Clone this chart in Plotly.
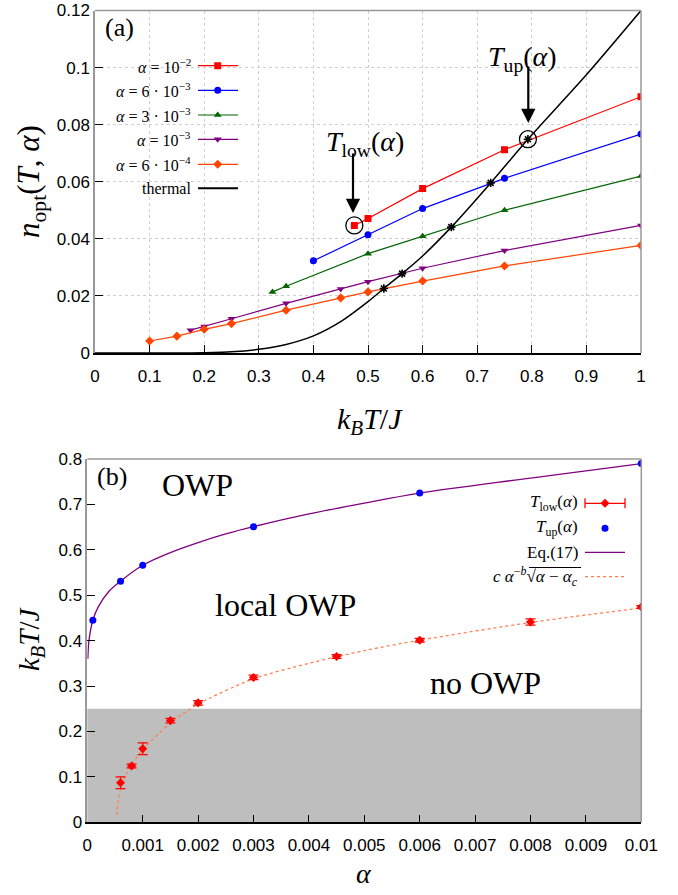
import plotly.graph_objects as go

W, H = 678, 895

# ---------------- panel (a): optimal occupation vs temperature ----------------
T_red = [0.475, 0.5, 0.6, 0.75, 1.0]
n_red = [0.0447, 0.0471, 0.0576, 0.0712, 0.0898]
T_blue = [0.4, 0.5, 0.6, 0.75, 1.0]
n_blue = [0.0323, 0.0414, 0.0506, 0.0612, 0.0767]
T_green = [0.325, 0.35, 0.5, 0.6, 0.75, 1.0]
n_green = [0.0214, 0.0234, 0.0348, 0.0409, 0.0500, 0.0620]
T_purple = [0.175, 0.2, 0.25, 0.35, 0.45, 0.5, 0.6, 0.75, 1.0]
n_purple = [0.0080, 0.0093, 0.0120, 0.0174, 0.0224, 0.0250, 0.0297, 0.0359, 0.0447]
T_orange = [0.1, 0.15, 0.2, 0.25, 0.35, 0.45, 0.5, 0.6, 0.75, 1.0]
n_orange = [0.0042, 0.0059, 0.0083, 0.0103, 0.0150, 0.0193, 0.0214, 0.0252, 0.0305, 0.0377]

# thermal occupation curve
T_thermal = [0.0, 0.1, 0.15, 0.2, 0.25, 0.3, 0.35, 0.4, 0.45, 0.5, 0.529, 0.5625,
             0.6, 0.6525, 0.7247, 0.7929, 0.9, 1.0]
n_thermal = [0.0, 0.0, 0.0, 0.0001, 0.0004, 0.0013, 0.0030, 0.0060, 0.0110, 0.0180,
             0.0226, 0.0278, 0.0340, 0.0441, 0.0596, 0.0749, 0.0975, 0.1200]

# crossings of the thermal curve with each alpha series
T_cross = [0.529, 0.5625, 0.6525, 0.7247, 0.7929]
n_cross = [0.0226, 0.0278, 0.0441, 0.0596, 0.0749]

# highlighted points for alpha = 1e-2
T_low_pt, n_low_pt = 0.475, 0.0447
T_up_pt, n_up_pt = 0.7929, 0.0749

legend_a = ["<i>α</i> = 10<sup>−2</sup>", "<i>α</i> = 6 · 10<sup>−3</sup>",
            "<i>α</i> = 3 · 10<sup>−3</sup>", "<i>α</i> = 10<sup>−3</sup>",
            "<i>α</i> = 6 · 10<sup>−4</sup>", "thermal"]

xa_ticks = [0, 0.1, 0.2, 0.3, 0.4, 0.5, 0.6, 0.7, 0.8, 0.9, 1]
xa_text = ["0", "0.1", "0.2", "0.3", "0.4", "0.5", "0.6", "0.7", "0.8", "0.9", "1"]
ya_ticks = [0, 0.02, 0.04, 0.06, 0.08, 0.1, 0.12]
ya_text = ["0", "0.02", "0.04", "0.06", "0.08", "0.1", "0.12"]

# ---------------- panel (b): phase diagram ----------------
alpha_up = [0.0001, 0.0006, 0.001, 0.003, 0.006, 0.01]
T_up = [0.445, 0.531, 0.566, 0.651, 0.725, 0.790]

alpha_low = [0.0006, 0.0008, 0.001, 0.0015, 0.002, 0.003, 0.0045, 0.006, 0.008, 0.01]
T_low = [0.087, 0.124, 0.162, 0.224, 0.263, 0.319, 0.365, 0.401, 0.441, 0.474]
T_low_err = [0.013, 0.004, 0.013, 0.005, 0.005, 0.005, 0.004, 0.004, 0.007, 0.003]

alpha_eq17 = [0.00001, 0.00003, 0.0001, 0.0002, 0.0004, 0.0006, 0.001, 0.0015,
              0.002, 0.0025, 0.003, 0.004, 0.005, 0.006, 0.008, 0.01]
T_eq17 = [0.360, 0.400, 0.445, 0.475, 0.510, 0.531, 0.566, 0.594, 0.616, 0.635,
          0.651, 0.679, 0.703, 0.725, 0.758, 0.790]

alpha_fit = [0.000535, 0.00055, 0.0006, 0.0007, 0.0008, 0.001, 0.0015, 0.002,
             0.003, 0.004, 0.005, 0.006, 0.008, 0.01]
T_fit = [0.016, 0.038, 0.072, 0.105, 0.127, 0.160, 0.218, 0.260, 0.316, 0.350,
         0.378, 0.401, 0.440, 0.472]

NO_OWP_LIMIT = 0.25

legend_b = ["<i>T</i><sub>low</sub>(<i>α</i>)", "<i>T</i><sub>up</sub>(<i>α</i>)",
            "Eq.(17)", "<i>c α</i><sup>−<i>b</i></sup>√<i>α</i> − <i>α</i><sub><i>c</i></sub>"]

xb_ticks = [0, 0.001, 0.002, 0.003, 0.004, 0.005, 0.006, 0.007, 0.008, 0.009, 0.01]
xb_text = ["0", "0.001", "0.002", "0.003", "0.004", "0.005", "0.006", "0.007", "0.008", "0.009", "0.01"]
yb_ticks = [0, 0.1, 0.2, 0.3, 0.4, 0.5, 0.6, 0.7, 0.8]
yb_text = ["0", "0.1", "0.2", "0.3", "0.4", "0.5", "0.6", "0.7", "0.8"]

# ---------------- layout geometry (pixels) ----------------
A_L, A_R, A_T, A_B = 95, 641, 10.5, 353
B_L, B_R, B_T, B_B = 87.3, 641.3, 459, 822.3
XA_RANGE, YA_RANGE = [0, 1], [0, 0.12]
XB_RANGE, YB_RANGE = [0, 0.01], [0, 0.8]


def px(x):
    return x / W


def py(y):
    return 1 - y / H


def a_data(x, y):
    return (XA_RANGE[0] + (x - A_L) / (A_R - A_L) * (XA_RANGE[1] - XA_RANGE[0]),
            YA_RANGE[0] + (A_B - y) / (A_B - A_T) * (YA_RANGE[1] - YA_RANGE[0]))


def b_data(x, y):
    return (XB_RANGE[0] + (x - B_L) / (B_R - B_L) * (XB_RANGE[1] - XB_RANGE[0]),
            YB_RANGE[0] + (B_B - y) / (B_B - B_T) * (YB_RANGE[1] - YB_RANGE[0]))


SERIF = "Liberation Serif, Times New Roman, serif"
SANS = "Liberation Sans, Arial, sans-serif"

RED, BLUE, GREEN, PURPLE, ORANGE = "#ff0000", "#0000ff", "#006400", "#800080", "#ff4500"
FIT = "#ff7f50"

fig = go.Figure()

series_a = [
    (T_red, n_red, RED, "square", 7),
    (T_blue, n_blue, BLUE, "circle", 7),
    (T_green, n_green, GREEN, "triangle-up", 7),
    (T_purple, n_purple, PURPLE, "triangle-down", 7),
    (T_orange, n_orange, ORANGE, "diamond", 7),
]
for xs, ys, col, sym, sz in series_a:
    fig.add_trace(go.Scatter(x=xs, y=ys, mode="lines+markers", xaxis="x", yaxis="y",
                             line=dict(color=col, width=1.2),
                             marker=dict(symbol=sym, size=sz, color=col),
                             showlegend=False, hoverinfo="skip"))

fig.add_trace(go.Scatter(x=T_thermal, y=n_thermal, mode="lines", xaxis="x", yaxis="y",
                         line=dict(color="black", width=1.5, shape="spline", smoothing=0.8),
                         showlegend=False, hoverinfo="skip"))
fig.add_trace(go.Scatter(x=T_cross, y=n_cross, mode="markers", xaxis="x", yaxis="y",
                         marker=dict(symbol="asterisk-open", size=7, color="black",
                                     line=dict(color="black", width=1.6)),
                         showlegend=False, hoverinfo="skip"))
fig.add_trace(go.Scatter(x=[T_low_pt, T_up_pt], y=[n_low_pt, n_up_pt], mode="markers",
                         xaxis="x", yaxis="y",
                         marker=dict(symbol="circle-open", size=17, color="black",
                                     line=dict(color="black", width=1.3)),
                         showlegend=False, hoverinfo="skip"))

# legend of panel (a): text on the left, sample on the right
leg_a_rows = [65.7, 90.3, 115.0, 139.3, 164.3, 188.3]
leg_a_styles = [(RED, "square"), (BLUE, "circle"), (GREEN, "triangle-up"),
                (PURPLE, "triangle-down"), (ORANGE, "diamond"), ("black", None)]
annotations = []
shapes = []
lx0, lx1, lxm = 198, 238, 217.7
for row, label, (col, sym) in zip(leg_a_rows, legend_a, leg_a_styles):
    x0, yv = a_data(lx0, row)
    x1, _ = a_data(lx1, row)
    shapes.append(dict(type="line", xref="x", yref="y", x0=x0, x1=x1, y0=yv, y1=yv,
                       line=dict(color=col, width=2 if sym is None else 1.2)))
    if sym is not None:
        xm, _ = a_data(lxm, row)
        fig.add_trace(go.Scatter(x=[xm], y=[yv], mode="markers", xaxis="x", yaxis="y",
                                 marker=dict(symbol=sym, size=7, color=col),
                                 showlegend=False, hoverinfo="skip"))
    annotations.append(dict(x=px(193), y=py(row), xref="paper", yref="paper",
                            text=label, showarrow=False, xanchor="right", yanchor="middle",
                            font=dict(family=SERIF, size=16, color="black")))

# ---- panel (b) traces ----
shapes.append(dict(type="rect", xref="x2 domain", yref="y2", x0=0, x1=1, y0=0,
                   y1=NO_OWP_LIMIT, fillcolor="#bebebe", line=dict(width=0), layer="below"))

fig.add_trace(go.Scatter(x=alpha_eq17, y=T_eq17, mode="lines", xaxis="x2", yaxis="y2",
                         line=dict(color=PURPLE, width=1.3, shape="spline", smoothing=1.0),
                         showlegend=False, hoverinfo="skip"))
fig.add_trace(go.Scatter(x=alpha_fit, y=T_fit, mode="lines", xaxis="x2", yaxis="y2",
                         line=dict(color=FIT, width=1.3, dash="dot", shape="spline",
                                   smoothing=0.8),
                         showlegend=False, hoverinfo="skip"))
fig.add_trace(go.Scatter(x=alpha_low, y=T_low, mode="markers", xaxis="x2", yaxis="y2",
                         error_y=dict(type="data", array=T_low_err, color=RED,
                                      thickness=1.3, width=5),
                         marker=dict(symbol="diamond", size=7, color=RED),
                         showlegend=False, hoverinfo="skip"))
fig.add_trace(go.Scatter(x=alpha_up, y=T_up, mode="markers", xaxis="x2", yaxis="y2",
                         marker=dict(symbol="circle", size=7, color=BLUE),
                         showlegend=False, hoverinfo="skip"))

# legend of panel (b)
leg_b_rows = [503.3, 528.3, 552.3, 576.7]
bx0, bx1, bxm = 585, 625, 605
for row, label in zip(leg_b_rows, legend_b):
    annotations.append(dict(x=px(580), y=py(row), xref="paper", yref="paper",
                            text=label, showarrow=False, xanchor="right", yanchor="middle",
                            font=dict(family=SERIF, size=17, color="black")))
r0, r1, r2, r3 = leg_b_rows
# T_low sample: horizontal error bar with marker
shapes.append(dict(type="line", xref="paper", yref="paper", x0=px(bx0), x1=px(bx1),
                   y0=py(r0), y1=py(r0), line=dict(color=RED, width=1.3)))
for cx in (bx0, bx1):
    shapes.append(dict(type="line", xref="paper", yref="paper", x0=px(cx), x1=px(cx),
                       y0=py(r0 - 5), y1=py(r0 + 5), line=dict(color=RED, width=1.3)))
xm, ym = b_data(bxm, r0)
fig.add_trace(go.Scatter(x=[xm], y=[ym], mode="markers", xaxis="x2", yaxis="y2",
                         marker=dict(symbol="diamond", size=7, color=RED),
                         showlegend=False, hoverinfo="skip"))
xm, ym = b_data(bxm, r1)
fig.add_trace(go.Scatter(x=[xm], y=[ym], mode="markers", xaxis="x2", yaxis="y2",
                         marker=dict(symbol="circle", size=7, color=BLUE),
                         showlegend=False, hoverinfo="skip"))
shapes.append(dict(type="line", xref="paper", yref="paper", x0=px(bx0), x1=px(bx1),
                   y0=py(r2), y1=py(r2), line=dict(color=PURPLE, width=1.3)))
shapes.append(dict(type="line", xref="paper", yref="paper", x0=px(bx0), x1=px(bx1),
                   y0=py(r3), y1=py(r3), line=dict(color=FIT, width=1.3, dash="dot")))
# vinculum of the square root in the fit label
shapes.append(dict(type="line", xref="paper", yref="paper", x0=px(529), x1=px(581),
                   y0=py(567.5), y1=py(567.5), line=dict(color="black", width=1)))

# ---- arrows and labels of panel (a) ----
for (hx, hy, ty), label, (tx, tyc) in [((353, 213, 152), "<i>T</i><sub>low</sub>(<i>α</i>)", (365, 143)),
                                        ((528.3, 123, 65), "<i>T</i><sub>up</sub>(<i>α</i>)", (522, 58))]:
    dx, dy = a_data(hx, hy)
    annotations.append(dict(x=dx, y=dy, xref="x", yref="y", text="", showarrow=True,
                            ax=0, ay=ty - hy, axref="pixel", ayref="pixel",
                            arrowhead=2, arrowsize=1.3, arrowwidth=2.2,
                            arrowcolor="black", standoff=0))
    annotations.append(dict(x=px(tx), y=py(tyc), xref="paper", yref="paper", text=label,
                            showarrow=False, xanchor="center", yanchor="middle",
                            font=dict(family=SERIF, size=28, color="black")))

# panel tags, region names and axis titles
text_items = [
    ("(a)", 103, 28, 26, "left"),
    ("(b)", 95, 476, 26, "left"),
    ("OWP", 197, 485, 32, "center"),
    ("local OWP", 285, 605, 32, "center"),
    ("no OWP", 485, 683, 32, "center"),
    ("<i>k</i><sub><i>B</i></sub><i>T</i>/<i>J</i>", 370, 421, 30, "center"),
    ("<i>α</i>", 364, 873, 28, "center"),
]
for txt, tx, ty, sz, anc in text_items:
    annotations.append(dict(x=px(tx), y=py(ty), xref="paper", yref="paper", text=txt,
                            showarrow=False, xanchor=anc, yanchor="middle",
                            font=dict(family=SERIF, size=sz, color="black")))
for txt, tx, ty, sz in [("<i>n</i><sub>opt</sub>(<i>T</i>, <i>α</i>)", 31, 182, 31),
                        ("<i>k</i><sub><i>B</i></sub><i>T</i>/<i>J</i>", 31, 640, 29)]:
    annotations.append(dict(x=px(tx), y=py(ty), xref="paper", yref="paper", text=txt,
                            showarrow=False, xanchor="center", yanchor="middle",
                            textangle=-90,
                            font=dict(family=SERIF, size=sz, color="black")))

# gray frame on top and right of both panels
for (l, r, t, b) in [(A_L, A_R, A_T, A_B), (B_L, B_R, B_T, B_B)]:
    shapes.append(dict(type="line", xref="paper", yref="paper", x0=px(l), x1=px(r),
                       y0=py(t), y1=py(t), line=dict(color="#999999", width=1.5)))
    shapes.append(dict(type="line", xref="paper", yref="paper", x0=px(r), x1=px(r),
                       y0=py(t), y1=py(b), line=dict(color="#999999", width=1.5)))

tickfont = dict(family=SANS, size=17, color="black")
common_x = dict(showline=True, linecolor="black", linewidth=1.5, ticks="inside", ticklen=8,
                tickcolor="black", tickwidth=1.2, tickfont=tickfont, zeroline=False,
                automargin=False, fixedrange=True, ticklabelstandoff=7)
common_y = dict(showline=True, linecolor="#999999", linewidth=1.5, ticks="inside",
                ticklen=8, tickcolor="black", tickwidth=1.2, tickfont=tickfont,
                zeroline=False, automargin=False, fixedrange=True)

fig.update_layout(
    width=W, height=H,
    margin=dict(l=0, r=0, t=0, b=0),
    paper_bgcolor="white", plot_bgcolor="white",
    showlegend=False,
    xaxis=dict(domain=[px(A_L), px(A_R)], anchor="y", range=XA_RANGE,
               tickvals=xa_ticks, ticktext=xa_text, showgrid=True,
               gridcolor="#cfcfcf", griddash="dot", gridwidth=1, **common_x),
    yaxis=dict(domain=[py(A_B), py(A_T)], anchor="x", range=YA_RANGE,
               tickvals=ya_ticks, ticktext=ya_text, showgrid=True,
               gridcolor="#cfcfcf", griddash="dot", gridwidth=1, **common_y),
    xaxis2=dict(domain=[px(B_L), px(B_R)], anchor="y2", range=XB_RANGE,
                tickvals=xb_ticks, ticktext=xb_text, showgrid=False, **common_x),
    yaxis2=dict(domain=[py(B_B), py(B_T)], anchor="x2", range=YB_RANGE,
                tickvals=yb_ticks, ticktext=yb_text, showgrid=False, **common_y),
    annotations=annotations,
    shapes=shapes,
)

fig.write_html("out.html")
